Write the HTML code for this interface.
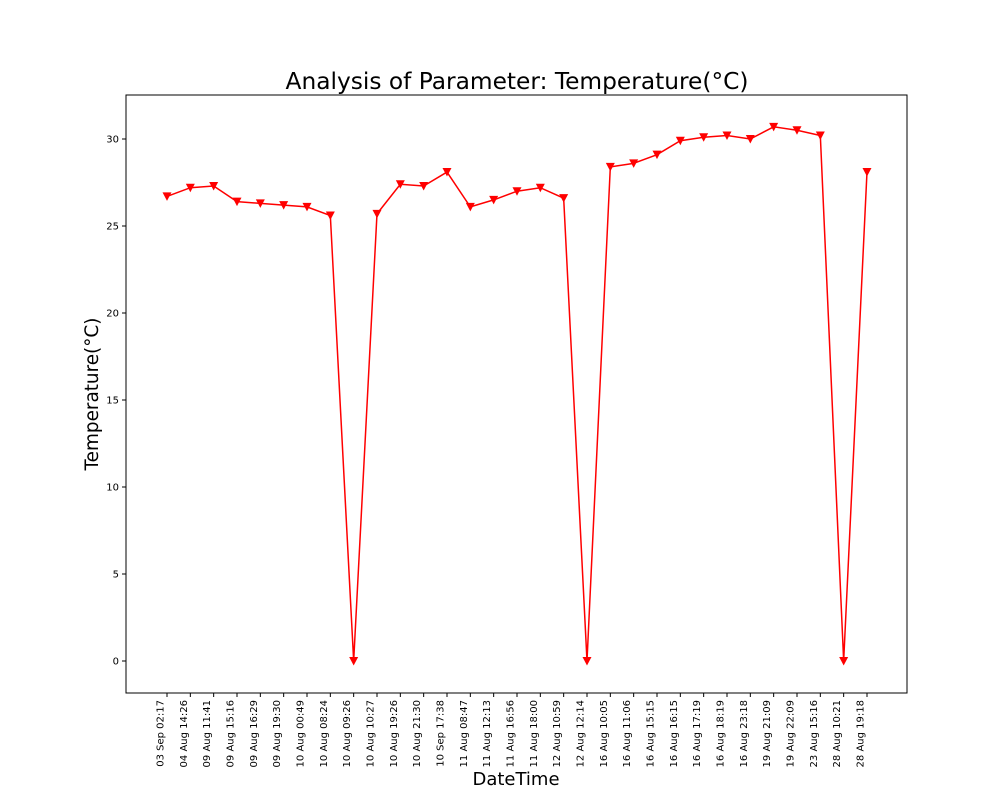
<!DOCTYPE html>
<html><head><meta charset="utf-8"><style>
body{margin:0;background:#fff;}
svg{display:block;font-family:"DejaVu Sans","Liberation Sans",sans-serif;}
</style></head><body>
<svg id="chart" width="1008" height="792" viewBox="0 0 1008 792"></svg>
<script>
const categories=["03 Sep 02:17","04 Aug 14:26","09 Aug 11:41","09 Aug 15:16","09 Aug 16:29","09 Aug 19:30","10 Aug 00:49","10 Aug 08:24","10 Aug 09:26","10 Aug 10:27","10 Aug 19:26","10 Aug 21:30","10 Sep 17:38","11 Aug 08:47","11 Aug 12:13","11 Aug 16:56","11 Aug 18:00","12 Aug 10:59","12 Aug 12:14","16 Aug 10:05","16 Aug 11:06","16 Aug 15:15","16 Aug 16:15","16 Aug 17:19","16 Aug 18:19","16 Aug 23:18","19 Aug 21:09","19 Aug 22:09","23 Aug 15:16","28 Aug 10:21","28 Aug 19:18"];
const temperatures=[26.7,27.2,27.3,26.4,26.3,26.2,26.1,25.6,0,25.7,27.4,27.3,28.1,26.1,26.5,27.0,27.2,26.6,0,28.4,28.6,29.1,29.9,30.1,30.2,30.0,30.7,30.5,30.2,0,28.1];
const yTicks=[0,5,10,15,20,25,30];
const NS="http://www.w3.org/2000/svg";
const svg=document.getElementById('chart');
const L=126,R=907,T=95,B=693;
const x0=167,dx=23.333;
function xs(i){return x0+i*dx;}
function ys(v){return 661-v*17.4;}
function mk(tag,attrs,parent){const e=document.createElementNS(NS,tag);for(const k in attrs)e.setAttribute(k,attrs[k]);(parent||svg).appendChild(e);return e;}
const title=mk('text',{x:517,y:89,'text-anchor':'middle','font-size':23.3});


title.textContent='Analysis of Parameter: Temperature(°C)';
const frame=mk('rect',{x:L,y:T,width:R-L,height:B-T,fill:'none',stroke:'#000','stroke-width':1});


yTicks.forEach(v=>{const y=ys(v);
 const t=mk('line',{x1:L-4,x2:L,y1:y,y2:y,stroke:'#000'});
 
 
 const lb=mk('text',{x:L-7,y:y+3.5,'text-anchor':'end','font-size':10});
 
 
 lb.textContent=v;});
categories.forEach((c,i)=>{const x=xs(i);
 const t=mk('line',{x1:x,x2:x,y1:B,y2:B+4,stroke:'#000'});
 
 
 const lb=mk('text',{x:0,y:0,'text-anchor':'end','font-size':10,transform:`translate(${x-3.5},${B+7}) rotate(-90)`});
 
 
 lb.textContent=c;});
const yl=mk('text',{x:0,y:0,'text-anchor':'middle','font-size':18.4,transform:'translate(98,394) rotate(-90)'});


yl.textContent='Temperature(°C)';
const xl=mk('text',{x:516,y:785,'text-anchor':'middle','font-size':18});


xl.textContent='DateTime';
const pts=temperatures.map((v,i)=>xs(i)+','+ys(v)).join(' ');
const line=mk('polyline',{points:pts,fill:'none',stroke:'#f00','stroke-width':1.5});


temperatures.forEach((v,i)=>{const x=xs(i),y=ys(v);
 const m=mk('polygon',{points:`${x-4.5},${y-4} ${x+4.5},${y-4} ${x},${y+4.5}`,fill:'#f00'});
 
 });
</script>
</body></html>
